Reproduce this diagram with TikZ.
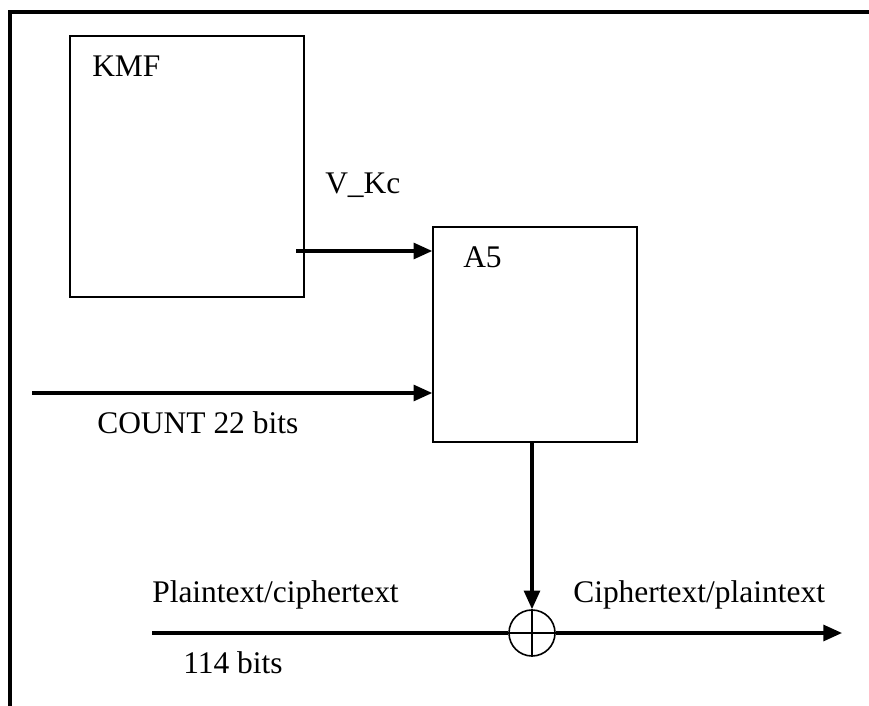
\documentclass[tikz,border=0pt]{standalone}
\usepackage{fontspec}
\setmainfont{Liberation Serif}
\usetikzlibrary{arrows.meta}

\begin{document}
\begin{tikzpicture}[x=0.75pt,y=-0.75pt,
    box/.style={draw,line width=1.2pt,inner sep=0pt},
    flow/.style={line width=2.3pt,-{Triangle[length=14pt,width=12pt]}},
    lbl/.style={anchor=base west,inner sep=0pt,font=\fontsize{23.6}{28}\selectfont}]
    \useasboundingbox (0,0) rectangle (869,706);
    \draw[line width=2.3pt] (869,12) -- (10,12) -- (10,706);
    \node[box,minimum width=175.5pt,minimum height=195.75pt] (kmf) at (187,166.5) {};
    \node[box,minimum width=153pt,minimum height=161.25pt] (a5) at (535,334.5) {};
    \node[draw,circle,line width=1.2pt,minimum size=34.5pt,inner sep=0pt] (xor) at (532,633) {};
    \draw[line width=1.2pt] (xor.north) -- (xor.south) (xor.west) -- (xor.east);
    \node[lbl] (kmflbl) at (92,77) {KMF};
    \node[lbl] (a5lbl) at (463,268) {A5};
    \node[lbl] (kclbl) at (325,194) {V\_Kc};
    \node[lbl] (cntlbl) at (97,434) {COUNT 22 bits};
    \node[lbl] (ptlbl) at (152,602) {Plaintext/ciphertext};
    \node[lbl] (bitslbl) at (183,673) {114 bits};
    \node[lbl] (ctlbl) at (573,602) {Ciphertext/plaintext};
    \coordinate (kcin) at (296,251);
    \coordinate (cntin) at (32,393);
    \coordinate (ptin) at (152,633);
    \coordinate (ctout) at (842,633);
    \draw[flow] (kcin) -- (kcin -| a5.west);
    \draw[flow] (cntin) -- (cntin -| a5.west);
    \draw[flow] (xor.north |- a5.south) -- (xor.north);
    \draw[line width=2.3pt] (ptin) -- (xor.west);
    \draw[flow] (xor.east) -- (ctout);
\end{tikzpicture}
\end{document}
